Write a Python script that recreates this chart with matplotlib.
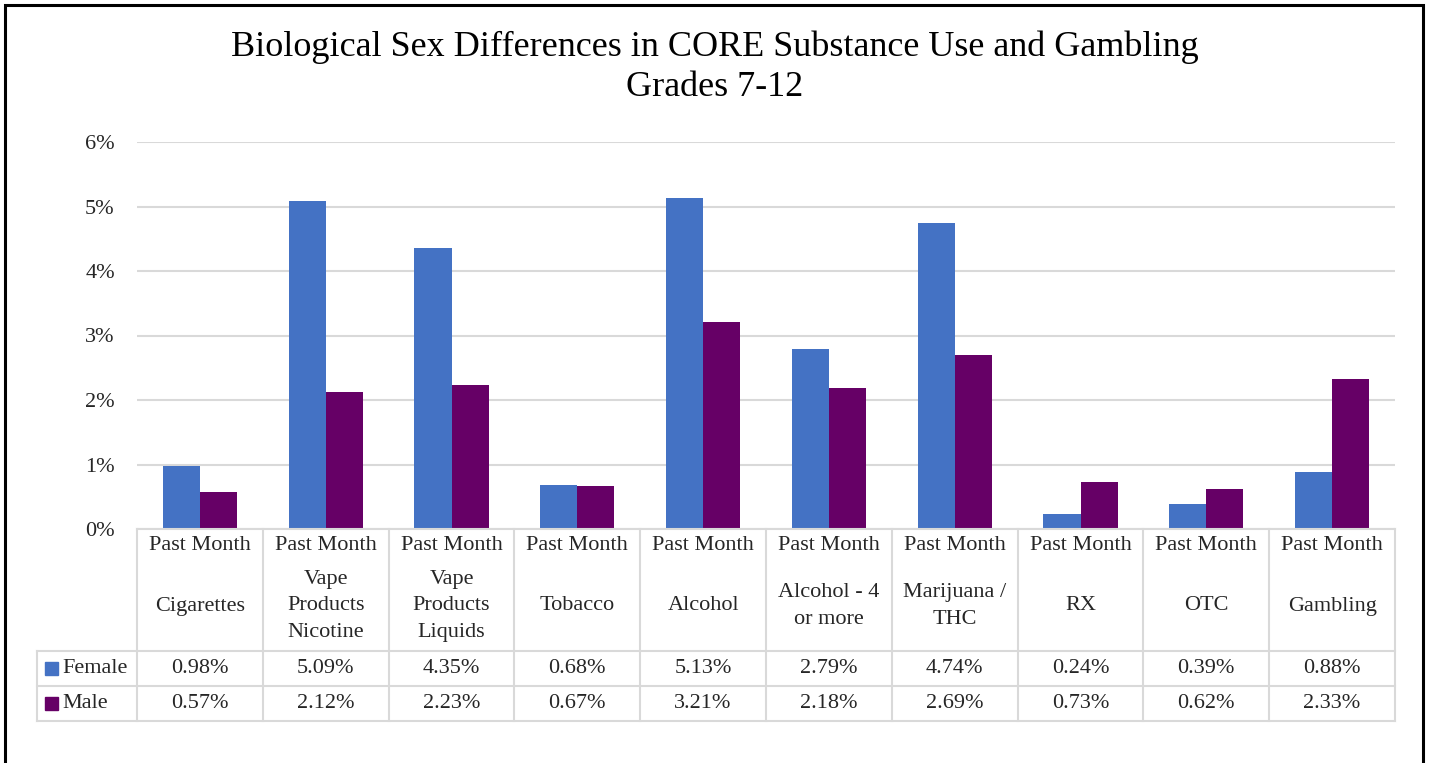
import numpy as np
import matplotlib.pyplot as plt
from matplotlib.patches import Rectangle
from matplotlib.lines import Line2D
import matplotlib.transforms as mtransforms

categories = ["Cigarettes", "Vape\nProducts\nNicotine", "Vape\nProducts\nLiquids", "Tobacco",
              "Alcohol", "Alcohol - 4\nor more", "Marijuana /\nTHC", "RX", "OTC", "Gambling"]
period = "Past Month"
female = [0.98, 5.09, 4.35, 0.68, 5.13, 2.79, 4.74, 0.24, 0.39, 0.88]
male = [0.57, 2.12, 2.23, 0.67, 3.21, 2.18, 2.69, 0.73, 0.62, 2.33]
yticks = [0, 1, 2, 3, 4, 5, 6]

FEMALE_C = "#4472C4"
MALE_C = "#660066"
GRID_C = "#D9D9D9"
TEXT_C = "#262626"
FS = 16

plt.rcParams['font.family'] = ['Liberation Serif', 'DejaVu Serif']

W, H = 1436, 763
fig = plt.figure(figsize=(W / 100, H / 100), dpi=100)

def fy(py):
    return 1 - py / H

def fx(px):
    return px / W

# plot area
ax = fig.add_axes([fx(137), fy(529), fx(1395) - fx(137), fy(142) - fy(529)])
x = np.arange(len(categories))
bw = 0.295
ax.bar(x - bw / 2, female, bw, color=FEMALE_C, zorder=3)
ax.bar(x + bw / 2, male, bw, color=MALE_C, zorder=3)
ax.set_xlim(-0.5, len(categories) - 0.5)
ax.set_ylim(0, 6)
ax.set_yticks(yticks)
ax.set_yticklabels([f"{t}%" for t in yticks], fontsize=FS, color=TEXT_C)
ax.tick_params(axis='y', length=0, pad=16)
ax.set_xticks([])
ax.grid(axis='y', color=GRID_C, linewidth=1.5, zorder=0)
for s in ax.spines.values():
    s.set_visible(False)

# title
fig.text(0.4975, fy(47), "Biological Sex Differences in CORE Substance Use and Gambling",
         ha='center', va='center', fontsize=26, color='black')
fig.text(0.4975, fy(88), "Grades 7-12", ha='center', va='center', fontsize=26, color='black')

# data table below the axes: x in data coords, y in figure coords
tr = mtransforms.blended_transform_factory(ax.transData, fig.transFigure)
lw = 1.5
n = len(categories)
y_top, y_r1, y_r2, y_bot = fy(529), fy(651), fy(686), fy(721)
x_leg = -0.5 - (137 - 37) / (1258 / n)

def hline(x0, x1, y):
    fig.add_artist(Line2D([x0, x1], [y, y], transform=tr, color=GRID_C, lw=lw, clip_on=False))

def vline(xv, y0, y1):
    fig.add_artist(Line2D([xv, xv], [y0, y1], transform=tr, color=GRID_C, lw=lw, clip_on=False))

hline(-0.5, n - 0.5, y_top)
for yy in (y_r1, y_r2, y_bot):
    hline(x_leg, n - 0.5, yy)
for i in range(n + 1):
    vline(i - 0.5, y_top, y_bot)
vline(x_leg, y_r1, y_bot)

for i, cat in enumerate(categories):
    fig.text(i, fy(545), period, transform=tr, ha='center', va='center', fontsize=FS, color=TEXT_C)
    fig.text(i, fy(606), cat, transform=tr, ha='center', va='center', fontsize=FS,
             color=TEXT_C, linespacing=1.55)
    fig.text(i, fy(668.5), f"{female[i]:.2f}%", transform=tr, ha='center', va='center',
             fontsize=FS, color=TEXT_C)
    fig.text(i, fy(703.5), f"{male[i]:.2f}%", transform=tr, ha='center', va='center',
             fontsize=FS, color=TEXT_C)

# legend keys inside table
for py, name, c in ((668.5, "Female", FEMALE_C), (703.5, "Male", MALE_C)):
    fig.add_artist(Rectangle((fx(45), fy(py + 6.5)), fx(13), 13 / H, transform=fig.transFigure,
                             color=c))
    fig.text(fx(62), fy(py), name, ha='left', va='center', fontsize=FS, color=TEXT_C)

# outer frame
fig.add_artist(Rectangle((fx(5), fy(770)), fx(1418), 765 / H, transform=fig.transFigure,
                         fill=False, edgecolor='black', lw=2.2, clip_on=False))

fig.savefig("out.png", dpi=100)
